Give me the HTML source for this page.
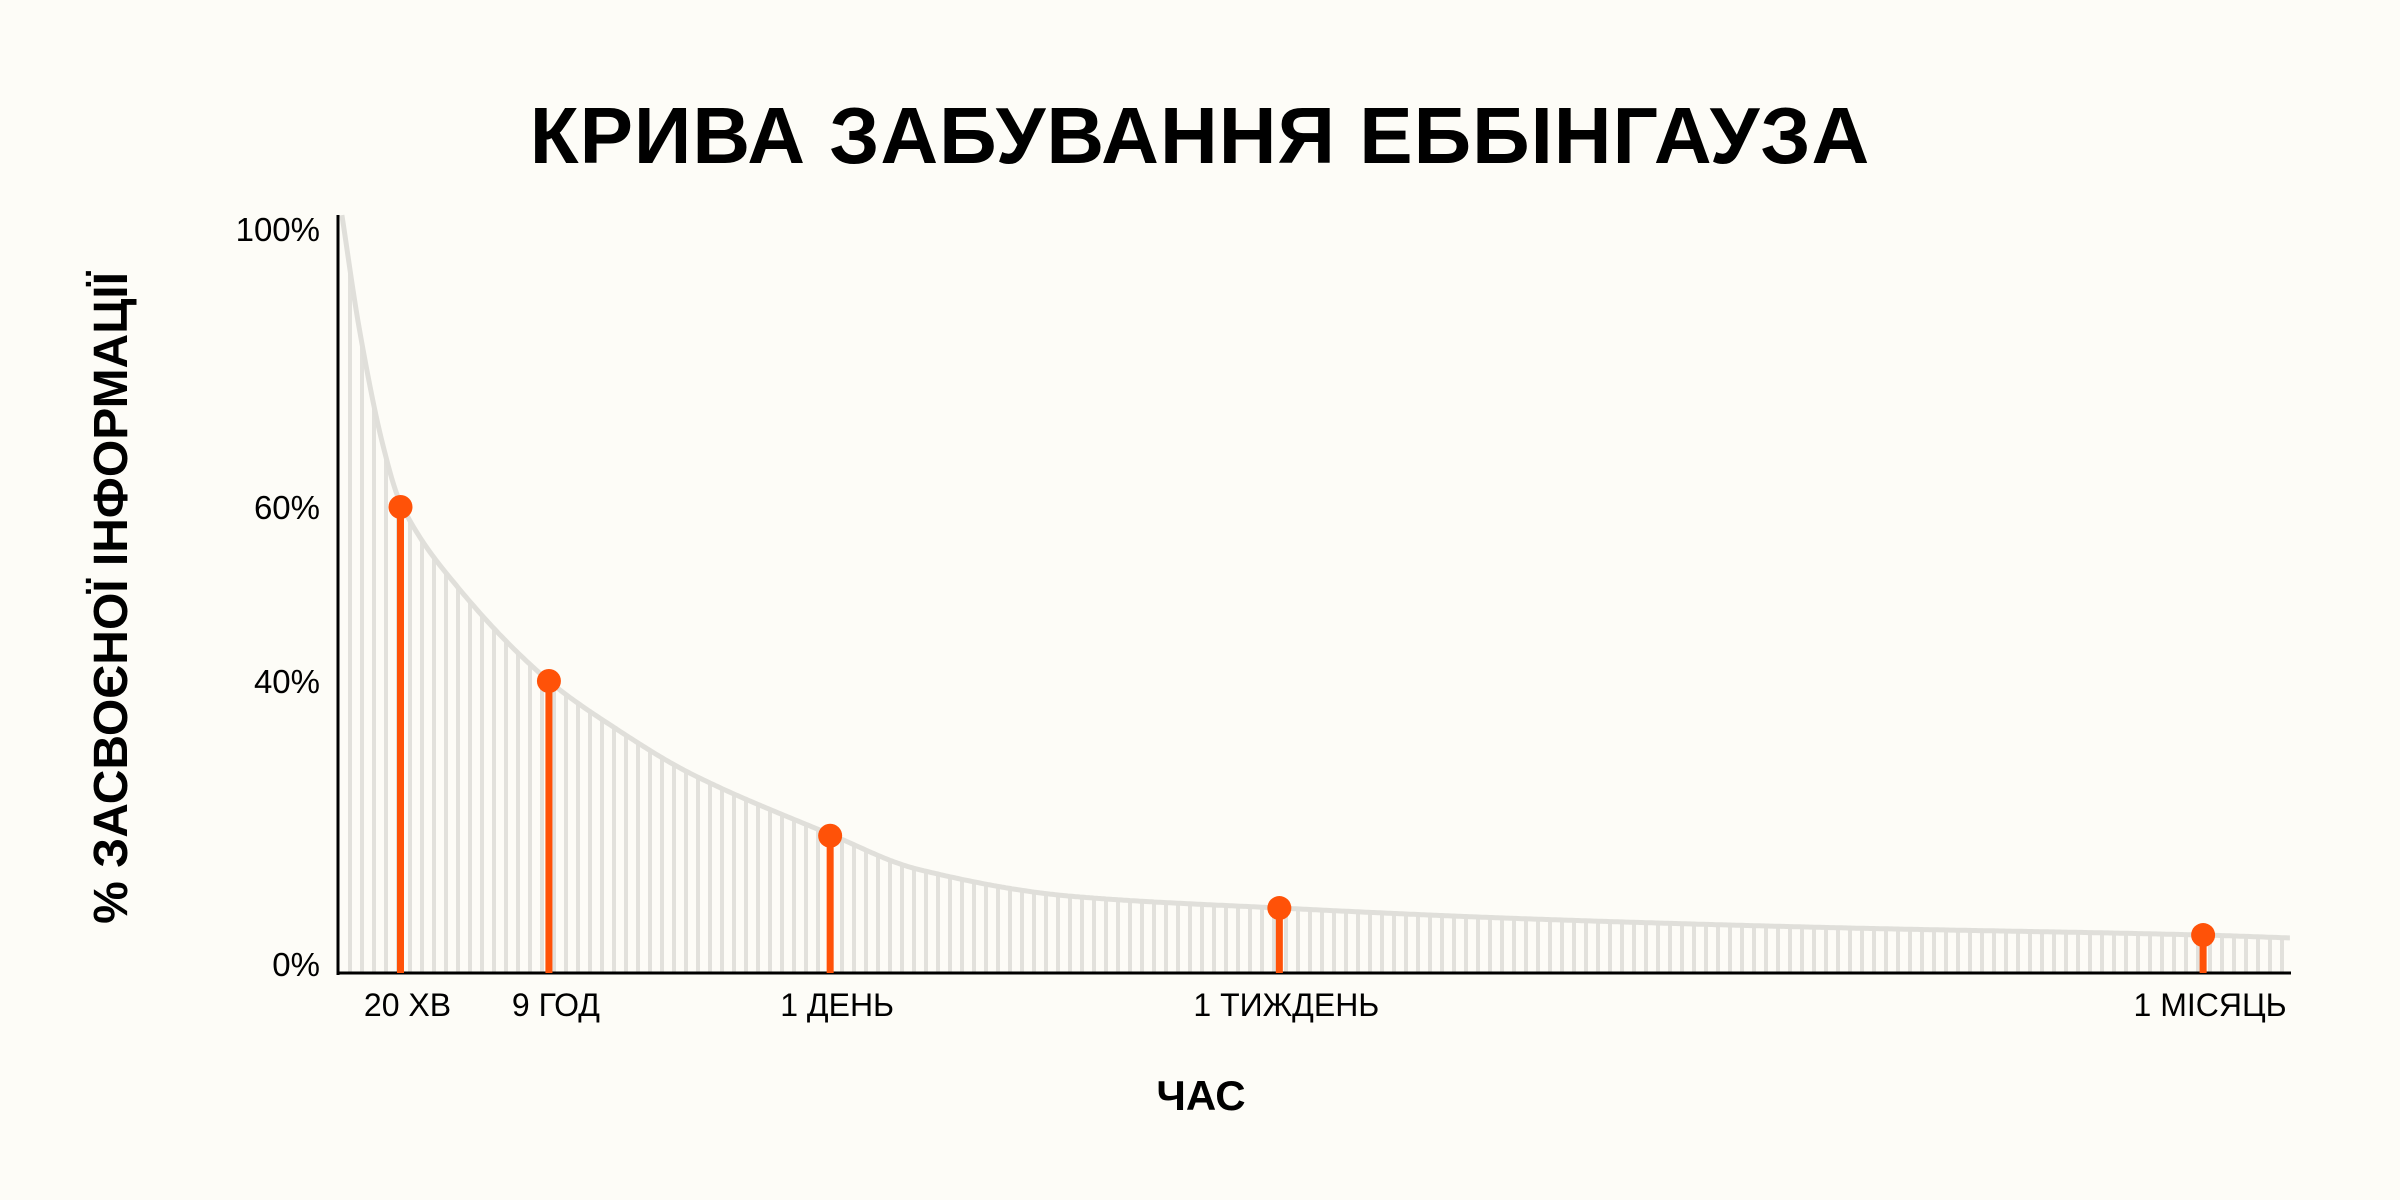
<!DOCTYPE html>
<html><head><meta charset="utf-8"><style>
html,body{margin:0;padding:0;background:#fdfcf7;}
svg{display:block;}
text{font-family:"Liberation Sans","Noto Sans CJK SC",sans-serif;fill:#000;}
</style></head><body>
<svg id="chart" width="2400" height="1200" viewBox="0 0 2400 1200" xmlns="http://www.w3.org/2000/svg">
<rect width="2400" height="1200" fill="#fdfcf7"/>
<text x="1200" y="163" text-anchor="middle" font-size="80" font-weight="bold" letter-spacing="1">КРИВА ЗАБУВАННЯ ЕББІНГАУЗА</text>
<text transform="translate(127,598) rotate(-90)" text-anchor="middle" font-size="48" font-weight="bold">% ЗАСВОЄНОЇ ІНФОРМАЦІЇ</text>
<text x="1201" y="1110" text-anchor="middle" font-size="42" font-weight="bold">ЧАС</text>
<g id="grid"></g><g id="curve"></g><g id="axes"></g><g id="marks"></g><g id="labels"></g>
</svg>
<script>
// y tick labels (percent) and curve samples (x position as % of plot width, retention %)
const yTicks = [0, 40, 60, 100];
const yTickLabels = ["0%", "40%", "60%", "100%"];
const curveX = [0.2, 1.1, 2.3, 3.2, 6.2, 10.8, 14.1, 18.0, 25.2, 29.7, 37.6, 48.2, 61.1, 76.8, 95.5, 100];
const curveY = [102, 85.5, 68.9, 60.6, 50.6, 40, 33.7, 27.4, 19.0, 14.2, 10.5, 8.9, 7.4, 6.2, 5.2, 4.8];
const pointLabels = ["20 ХВ", "9 ГОД", "1 ДЕНЬ", "1 ТИЖДЕНЬ", "1 МІСЯЦЬ"];
const pointX = [3.2, 10.8, 25.2, 48.2, 95.5];
const pointY = [60, 40, 18.8, 8.9, 5.2];

const NS = "http://www.w3.org/2000/svg";
const X0 = 338, X1 = 2291, Y0 = 973;
const yStops = [[0,973],[40,681],[60,507],[100,229]];
function xs(p){ return X0 + (X1 - X0) * p / 100; }
function ys(v){
  for (let i = 0; i < yStops.length - 1; i++) {
    const a = yStops[i], b = yStops[i+1];
    if (v <= b[0] || i === yStops.length - 2) return a[1] + (v - a[0]) * (b[1] - a[1]) / (b[0] - a[0]);
  }
}
const PX = curveX.map(xs), PY = curveY.map(ys);
const n = PX.length, m = [], dl = [];
for (let i = 0; i < n - 1; i++) dl.push((PY[i+1]-PY[i])/(PX[i+1]-PX[i]));
for (let i = 0; i < n; i++) {
  if (i === 0) m.push(dl[0]); else if (i === n-1) m.push(dl[n-2]);
  else m.push(dl[i-1]*dl[i] <= 0 ? 0 : 2/(1/dl[i-1]+1/dl[i]));
}
function cy(x){
  let i = 0;
  while (i < n - 2 && x > PX[i+1]) i++;
  const h = PX[i+1]-PX[i], t = (x-PX[i])/h;
  const h00=2*t*t*t-3*t*t+1, h10=t*t*t-2*t*t+t, h01=-2*t*t*t+3*t*t, h11=t*t*t-t*t;
  return h00*PY[i]+h10*h*m[i]+h01*PY[i+1]+h11*h*m[i+1];
}
function mk(tag, attrs, parent){
  const e = document.createElementNS(NS, tag);
  for (const k in attrs) e.setAttribute(k, attrs[k]);
  parent.appendChild(e); return e;
}
const grid = document.getElementById('grid');
for (let px = X0 + 12; px < X1; px += 12) {
  if (px < PX[0]) continue;
  const l = mk('line', {x1: px, x2: px, y1: Y0, y2: Math.max(cy(px), 215), stroke: '#e2e1dc', 'stroke-width': 4}, grid);
  
  
}
let d = '';
for (let px = PX[0]; px <= X1; px += 2) {
  d += (d ? 'L' : 'M') + px.toFixed(1) + ',' + Math.max(cy(px), 215).toFixed(1);
}
const cp = mk('path', {d: d, fill: 'none', stroke: '#e0dfda', 'stroke-width': 5}, document.getElementById('curve'));



const axes = document.getElementById('axes');
const ya = mk('line', {x1: X0, x2: X0, y1: 215, y2: Y0 + 2, stroke: '#000', 'stroke-width': 3}, axes);


const xa = mk('line', {x1: X0 - 1, x2: X1, y1: Y0, y2: Y0, stroke: '#000', 'stroke-width': 3}, axes);



const labels = document.getElementById('labels');
yTicks.forEach((v, i) => {
  const t = mk('text', {x: 320, y: ys(v) + 12 - (v === 0 ? 9 : 0), 'text-anchor': 'end', 'font-size': 33}, labels);
  t.textContent = yTickLabels[i];
  
  
});
const marks = document.getElementById('marks');
pointX.forEach((p, i) => {
  const x = xs(p), y = ys(pointY[i]);
  const s = mk('line', {x1: x, x2: x, y1: Y0, y2: y, stroke: '#ff5208', 'stroke-width': 7}, marks);
  
  
  const c = mk('circle', {cx: x, cy: y, r: 12, fill: '#ff5208'}, marks);
  
  
  const t = mk('text', {x: x + 7, y: 1016, 'text-anchor': 'middle', 'font-size': 32}, labels);
  t.textContent = pointLabels[i];
  
  
});
</script>
</body></html>
